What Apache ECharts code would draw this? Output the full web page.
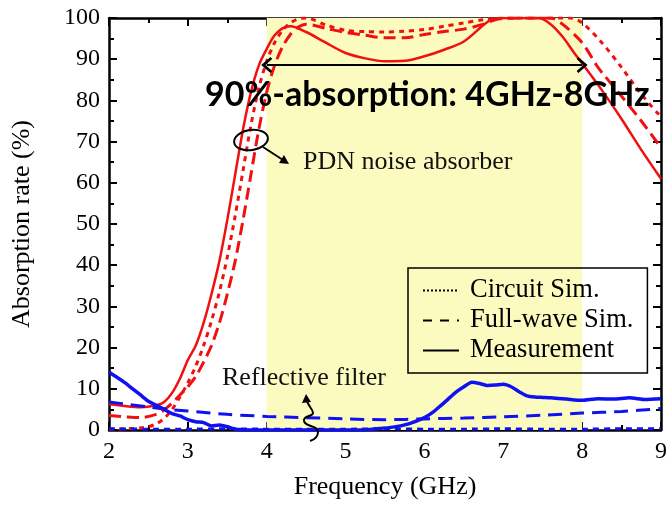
<!DOCTYPE html>
<html><head><meta charset="utf-8">
<script src="https://cdn.jsdelivr.net/npm/echarts@6/dist/echarts.min.js"></script>
<style>html,body{margin:0;padding:0;background:#fff}#c{width:670px;height:510px}</style>
</head><body><div id="c"></div>
<script>
// ---- Data ----
const xTicks = [2, 3, 4, 5, 6, 7, 8, 9];
const yTicks = [0, 10, 20, 30, 40, 50, 60, 70, 80, 90, 100];

// PDN noise absorber (red)
const absMeasX = [2.0,2.2,2.4,2.6,2.7,2.8,2.9,3.0,3.1,3.2,3.3,3.4,3.5,3.6,3.7,3.8,3.9,4.0,4.1,4.2,4.3,4.5,4.75,5.0,5.25,5.5,5.75,6.0,6.25,6.5,6.75,6.85,7.0,7.25,7.45,7.6,7.75,7.9,8.0,8.25,8.5,8.75,9.0];
const absMeasY = [6.3,5.8,5.5,6.0,6.8,9.0,12.5,17,20.5,26,33,41,51,62,73,82,88.5,92.5,95.8,97.5,98,96.6,94,91.5,90.2,89.5,89.6,90.7,92.3,94.3,98.3,99.6,100,100,100,98.5,95.5,91.5,89,82.5,75.5,68,61];

const absFullX = [2.0,2.2,2.4,2.6,2.7,2.8,2.9,3.0,3.1,3.2,3.3,3.4,3.5,3.6,3.7,3.8,3.9,4.0,4.1,4.2,4.3,4.4,4.5,4.75,5.0,5.25,5.5,5.75,6.0,6.25,6.5,6.75,6.9,7.2,7.6,7.75,8.0,8.18,8.25,8.5,8.75,9.0];
const absFullY = [3.5,3.2,3.0,3.8,4.9,6.5,8.5,10.5,13,16.5,20.5,26,33,41,51,62,73,82,88.5,93,96,97.8,98.5,97.5,96.5,95.8,95.2,95.2,96,96.7,97.3,98.5,99.6,100,100,98.5,94,88.6,86.8,81,75,68.5];

const absCircX = [2.0,2.2,2.4,2.5,2.6,2.7,2.8,2.9,3.0,3.1,3.2,3.3,3.4,3.5,3.6,3.7,3.8,3.9,4.0,4.1,4.2,4.3,4.4,4.5,4.75,5.0,5.25,5.5,5.75,6.0,6.25,6.5,6.75,7.0,7.5,7.85,8.0,8.25,8.5,8.75,9.0];
const absCircY = [0.2,0.3,0.5,0.8,1.5,2.8,5,8,11.5,15.5,20.5,26.5,33.5,42,52,63,74,83,89.5,94,97,98.8,99.8,100,98.3,97,96.7,96.6,96.8,97.2,98,98.8,99.6,100,100,100,98.8,94,88,81.5,76];

// Reflective filter (blue)
const filMeasX = [2.0,2.1,2.2,2.3,2.4,2.5,2.6,2.7,2.8,2.9,3.0,3.1,3.2,3.3,3.4,3.5,3.6,3.8,4.5,5.2,5.4,5.6,5.8,6.0,6.1,6.2,6.3,6.4,6.5,6.6,6.7,6.8,6.9,7.0,7.1,7.2,7.3,7.4,7.5,7.6,7.8,8.0,8.2,8.4,8.6,8.8,9.0];
const filMeasY = [14,12.8,11.5,10,8.5,7,6,5,4,3.4,2.5,2.0,1.8,1.0,1.2,0.8,0.2,0,0,0,0.3,0.7,1.5,3.0,4.2,5.8,7.5,9.2,10.5,11.6,11.3,10.8,10.9,11.1,10.5,9.3,8.3,8.0,7.9,7.8,7.5,7.2,7.6,7.5,7.8,7.4,7.6];

const filFullX = [2.0,2.25,2.5,2.75,3.0,3.5,4.0,4.5,5.0,5.5,6.0,6.5,7.0,7.5,8.0,8.5,9.0];
const filFullY = [6.8,6.2,5.6,5.0,4.6,3.8,3.3,3.0,2.7,2.5,2.7,2.9,3.2,3.6,4.1,4.5,5.2];

const filCircX = [2.0,2.5,3.0,3.5,4.0,4.5,5.0,5.5,6.0,6.5,7.0,7.5,8.0,8.5,9.0];
const filCircY = [0.3,0.2,0.2,0.3,0.2,0.2,0.2,0.3,0.2,0.2,0.3,0.2,0.2,0.3,0.3];

const bandRange = [4, 8];
const arrowLevel = 88.6;
const legendNames = ['Circuit Sim.', 'Full-wave Sim.', 'Measurement'];
// ---------------------------------------

const zip = (xs, ys) => xs.map((x, i) => [x, ys[i]]);
const SERIF = '"Liberation Serif","Times New Roman",serif';
const RED = '#f01010', BLUE = '#1010f0';

const chevron = 'path://M10,0 L20,11 L17.5,13 L10,5 L2.5,13 L0,11 Z';

function axisCommon(show) {
  return {
    axisLine: { show: true, onZero: false, lineStyle: { color: '#000', width: 2.5 } },
    axisTick: { show: true, inside: true, length: 8, lineStyle: { color: '#000', width: 2 } },
    minorTick: { show: true, splitNumber: 2, length: 5, lineStyle: { color: '#000', width: 2 } },
    splitLine: { show: false },
    axisLabel: { show: show, color: '#000', fontFamily: SERIF, fontSize: 24 }
  };
}

const lineSeries = (name, data, color, type, width, smooth, z) => ({
  type: 'line', name: name, data: data, symbol: 'none', showSymbol: false, smooth: smooth, z: z || 3,
  lineStyle: { color: color, width: width, type: type }, itemStyle: { color: color },
  silent: true, animation: false
});

const curl = [
  [307,401, 313,413, 308,406, 313,409],
  [313,413, 304,421, 313,417, 303,415],
  [304,421, 318,432, 305,427, 318,425],
  [318,432, 310,441, 318,438, 313,440]
].map(s => ({ type: 'bezierCurve', z: 100,
  shape: { x1: s[0], y1: s[1], x2: s[2], y2: s[3], cpx1: s[4], cpy1: s[5], cpx2: s[6], cpy2: s[7] },
  style: { fill: 'none', stroke: '#000', lineWidth: 2 } }));

const option = {
  animation: false,
  grid: { left: 109, right: 5, top: 18, bottom: 80 },
  xAxis: [
    Object.assign({ type: 'value', min: xTicks[0], max: xTicks[xTicks.length - 1], interval: 1, position: 'bottom',
      name: 'Frequency (GHz)', nameLocation: 'middle', nameGap: 44, nameMoveOverlap: false,
      nameTextStyle: { color: '#000', fontFamily: SERIF, fontSize: 26 } }, axisCommon(true),
      { axisLabel: { show: true, color: '#000', fontFamily: SERIF, fontSize: 24, margin: 10 } }),
    Object.assign({ type: 'value', min: xTicks[0], max: xTicks[xTicks.length - 1], interval: 1, position: 'top' }, axisCommon(false))
  ],
  yAxis: [
    Object.assign({ type: 'value', min: yTicks[0], max: yTicks[yTicks.length - 1], interval: 10, position: 'left',
      name: 'Absorption rate (%)', nameLocation: 'middle', nameGap: 74,
      nameTextStyle: { color: '#000', fontFamily: SERIF, fontSize: 26 } }, axisCommon(true),
      { axisLabel: { show: true, color: '#000', fontFamily: SERIF, fontSize: 24, margin: 9 } }),
    Object.assign({ type: 'value', min: yTicks[0], max: yTicks[yTicks.length - 1], interval: 10, position: 'right' }, axisCommon(false))
  ],
  legend: {
    left: 408, top: 268, orient: 'vertical',
    data: legendNames,
    itemWidth: 36, itemHeight: 20, itemGap: 3,
    padding: [9, 14, 9, 14],
    itemStyle: { opacity: 0 },
    borderColor: '#000', borderWidth: 1.5, backgroundColor: 'transparent',
    textStyle: { color: '#000', fontFamily: SERIF, fontSize: 26.5, padding: [0, 0, 0, 6] },
    selectedMode: false
  },
  series: [
    { type: 'line', data: [], z: 1, silent: true,
      markArea: { silent: true, itemStyle: { color: '#fbfbc0' },
        data: [[{ xAxis: bandRange[0] }, { xAxis: bandRange[1] }]] } },
    lineSeries('absCirc', zip(absCircX, absCircY), RED, [5, 5], 3, 0.3),
    lineSeries('absFull', zip(absFullX, absFullY), RED, [12, 6], 3, 0.3),
    lineSeries('absMeas', zip(absMeasX, absMeasY), RED, 'solid', 2.5, 0.3),
    lineSeries('filCirc', zip(filCircX, filCircY), BLUE, [6, 5], 3, 0.2),
    lineSeries('filFull', zip(filFullX, filFullY), BLUE, [14, 8], 3, 0.3),
    lineSeries('filMeas', zip(filMeasX, filMeasY), BLUE, 'solid', 3.5, 0.2),
    // legend entries (black)
    lineSeries(legendNames[0], [], '#000', 'dotted', 2.5, false),
    lineSeries(legendNames[1], [], '#000', [9, 8], 2.5, false),
    lineSeries(legendNames[2], [], '#000', 'solid', 2.5, false),
    // 4GHz-8GHz double arrow
    { type: 'line', data: [], z: 10, silent: true,
      markLine: { silent: true, symbol: [chevron, chevron], symbolSize: [16, 11],
        label: { show: false },
        lineStyle: { color: '#000', width: 2, type: 'solid' },
        data: [[{ coord: [bandRange[0], arrowLevel] }, { coord: [bandRange[1], arrowLevel] }]] } }
  ],
  graphic: [
    { type: 'text', x: 205, y: 78, z: 100,
      style: { text: '90%-absorption: 4GHz-8GHz', fill: '#000', font: 'bold 34px Lato, "Liberation Sans", sans-serif' } },
    { type: 'text', x: 303, y: 162, z: 100,
      style: { text: 'PDN noise absorber', fill: '#111', font: '26px ' + SERIF, textVerticalAlign: 'middle' } },
    { type: 'text', x: 222, y: 378, z: 100,
      style: { text: 'Reflective filter', fill: '#111', font: '26px ' + SERIF, textVerticalAlign: 'middle' } },
    { type: 'ellipse', z: 100, shape: { cx: 251, cy: 140, rx: 17, ry: 10 }, rotation: 0.15, originX: 251, originY: 140,
      style: { fill: 'none', stroke: '#000', lineWidth: 2 } },
    { type: 'line', z: 100, shape: { x1: 263, y1: 147, x2: 283, y2: 160 }, style: { stroke: '#000', lineWidth: 2 } },
    { type: 'polygon', z: 100, shape: { points: [[289, 164], [279, 163], [284, 155]] }, style: { fill: '#000' } },
    { type: 'polygon', z: 100, shape: { points: [[306, 394], [302, 403], [311, 402]] }, style: { fill: '#000' } }
  ].concat(curl)
};

const chart = echarts.init(document.getElementById('c'), null, { renderer: 'canvas' });
chart.setOption(option);
</script>
</body></html>
